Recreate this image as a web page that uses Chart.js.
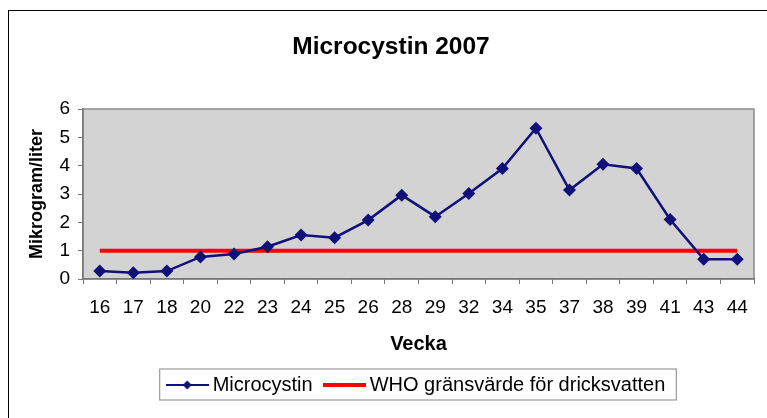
<!DOCTYPE html>
<html>
<head>
<meta charset="utf-8">
<script src="https://cdn.jsdelivr.net/npm/chart.js@4/dist/chart.umd.min.js"></script>
<style>
  html, body { margin: 0; padding: 0; background: #ffffff; overflow: hidden; }
  #wrap { position: relative; width: 767px; height: 418px; }
  #frame { position: absolute; left: 8px; top: 10px; width: 820px; height: 500px; border: 1.5px solid #000; box-sizing: border-box; }
  canvas { position: absolute; left: 0; top: 0; }
</style>
</head>
<body>
<div id="wrap">
  <div id="frame"></div>
  <canvas id="c" width="767" height="418"></canvas>
</div>
<script>
const weeks = ['16','17','18','20','22','23','24','25','26','28','29','32','34','35','37','38','39','41','43','44'];
const microcystin = [0.28, 0.22, 0.28, 0.78, 0.88, 1.14, 1.55, 1.46, 2.08, 2.96, 2.2, 3.02, 3.9, 5.32, 3.14, 4.05, 3.9, 2.1, 0.7, 0.7];
const whoLimit = [1, 1, 1, 1, 1, 1, 1, 1, 1, 1, 1, 1, 1, 1, 1, 1, 1, 1, 1, 1];
const yTicks = [0, 1, 2, 3, 4, 5, 6];
const chartTitle = 'Microcystin 2007';
const xTitle = 'Vecka';
const yTitle = 'Mikrogram/liter';
const seriesNames = ['Microcystin', 'WHO gränsvärde för dricksvatten'];

const NAVY = '#10107a';
const RED = '#ff0000';
const FONT = "'Liberation Sans', Arial, sans-serif";

function makeSymbol(color, lineW, withDiamond) {
  const c = document.createElement('canvas');
  c.width = 43; c.height = 12;
  const g = c.getContext('2d');
  g.strokeStyle = color; g.lineWidth = lineW;
  g.beginPath(); g.moveTo(0, 6); g.lineTo(43, 6); g.stroke();
  if (withDiamond) {
    g.fillStyle = color;
    g.beginPath(); g.moveTo(21.5, 1.5); g.lineTo(26, 6); g.lineTo(21.5, 10.5); g.lineTo(17, 6); g.closePath(); g.fill();
  }
  return c;
}
const symMicro = makeSymbol(NAVY, 2, true);
const symWho = makeSymbol(RED, 4, false);

const plotArea = {
  id: 'plotArea',
  beforeDraw(chart) {
    const {ctx, chartArea: a} = chart;
    ctx.save();
    ctx.fillStyle = '#d3d3d3';
    ctx.fillRect(a.left, a.top, a.right - a.left, a.bottom - a.top);
    ctx.strokeStyle = '#8a8a8a';
    ctx.lineWidth = 1.5;
    ctx.strokeRect(a.left, a.top, a.right - a.left, a.bottom - a.top);
    ctx.restore();
  }
};

const legendFrame = {
  id: 'legendFrame',
  afterDraw(chart) {
    const hb = chart.legend.legendHitBoxes;
    if (!hb || !hb.length) return;
    const first = hb[0], last = hb[hb.length - 1];
    const cy = first.top + first.height / 2;
    const left = first.left - 12;
    const right = last.left + last.width + 11;
    const ctx = chart.ctx;
    ctx.save();
    ctx.strokeStyle = '#9a9a9a';
    ctx.lineWidth = 1.2;
    ctx.strokeRect(left, cy - 16, right - left, 31);
    ctx.restore();
  }
};

new Chart(document.getElementById('c'), {
  type: 'line',
  data: {
    labels: weeks,
    datasets: [
      {
        label: seriesNames[0],
        data: microcystin,
        borderColor: NAVY,
        backgroundColor: NAVY,
        borderWidth: 2.5,
        pointStyle: 'rectRot',
        pointRadius: 6.5,
        pointBorderWidth: 0,
        pointBackgroundColor: NAVY,
        tension: 0,
        order: 1
      },
      {
        label: seriesNames[1],
        data: whoLimit,
        borderColor: RED,
        backgroundColor: RED,
        borderWidth: 4,
        pointRadius: 0,
        tension: 0,
        order: 2
      }
    ]
  },
  options: {
    responsive: false,
    animation: false,
    layout: { padding: { left: 28, top: 10, right: 13, bottom: 13 } },
    plugins: {
      title: {
        display: true,
        text: chartTitle,
        color: '#000',
        font: { family: FONT, size: 24.5, weight: 'bold' },
        padding: { top: 23, bottom: 46.6 }
      },
      legend: {
        position: 'bottom',
        fullSize: false,
        labels: {
          usePointStyle: true,
          pointStyleWidth: 31,
          padding: 16,
          color: '#000',
          font: { family: FONT, size: 20 },
          generateLabels(chart) {
            return chart.data.datasets.map((ds, i) => ({
              text: ds.label,
              pointStyle: i === 0 ? symMicro : symWho,
              fillStyle: ds.borderColor,
              strokeStyle: ds.borderColor,
              lineWidth: 0,
              hidden: false,
              datasetIndex: i
            }));
          }
        }
      },
      tooltip: { enabled: false }
    },
    scales: {
      x: {
        offset: true,
        grid: { offset: true, drawOnChartArea: false, drawTicks: true, tickLength: 5, tickColor: '#777', color: '#777' },
        border: { color: '#777', width: 1.5 },
        ticks: { color: '#000', font: { family: FONT, size: 19 }, padding: 12, maxRotation: 0, autoSkip: false },
        title: { display: true, text: xTitle, color: '#000', font: { family: FONT, size: 20, weight: 'bold' }, padding: { top: 0, bottom: 3 } },
        afterFit(s) { s.height = 80; }
      },
      y: {
        min: 0,
        max: 6,
        afterBuildTicks(s) { s.ticks = yTicks.map(v => ({ value: v })); },
        grid: { drawOnChartArea: false, drawTicks: true, tickLength: 5, tickColor: '#777', color: '#777' },
        border: { color: '#777', width: 1.5 },
        ticks: { color: '#000', font: { family: FONT, size: 19 }, padding: 8 },
        title: { display: true, text: yTitle, color: '#000', font: { family: FONT, size: 18, weight: 'bold' }, padding: { top: -1.5, bottom: 0 } },
        afterFit(s) { s.width = 55; }
      }
    }
  },
  plugins: [plotArea, legendFrame]
});
</script>
</body>
</html>
